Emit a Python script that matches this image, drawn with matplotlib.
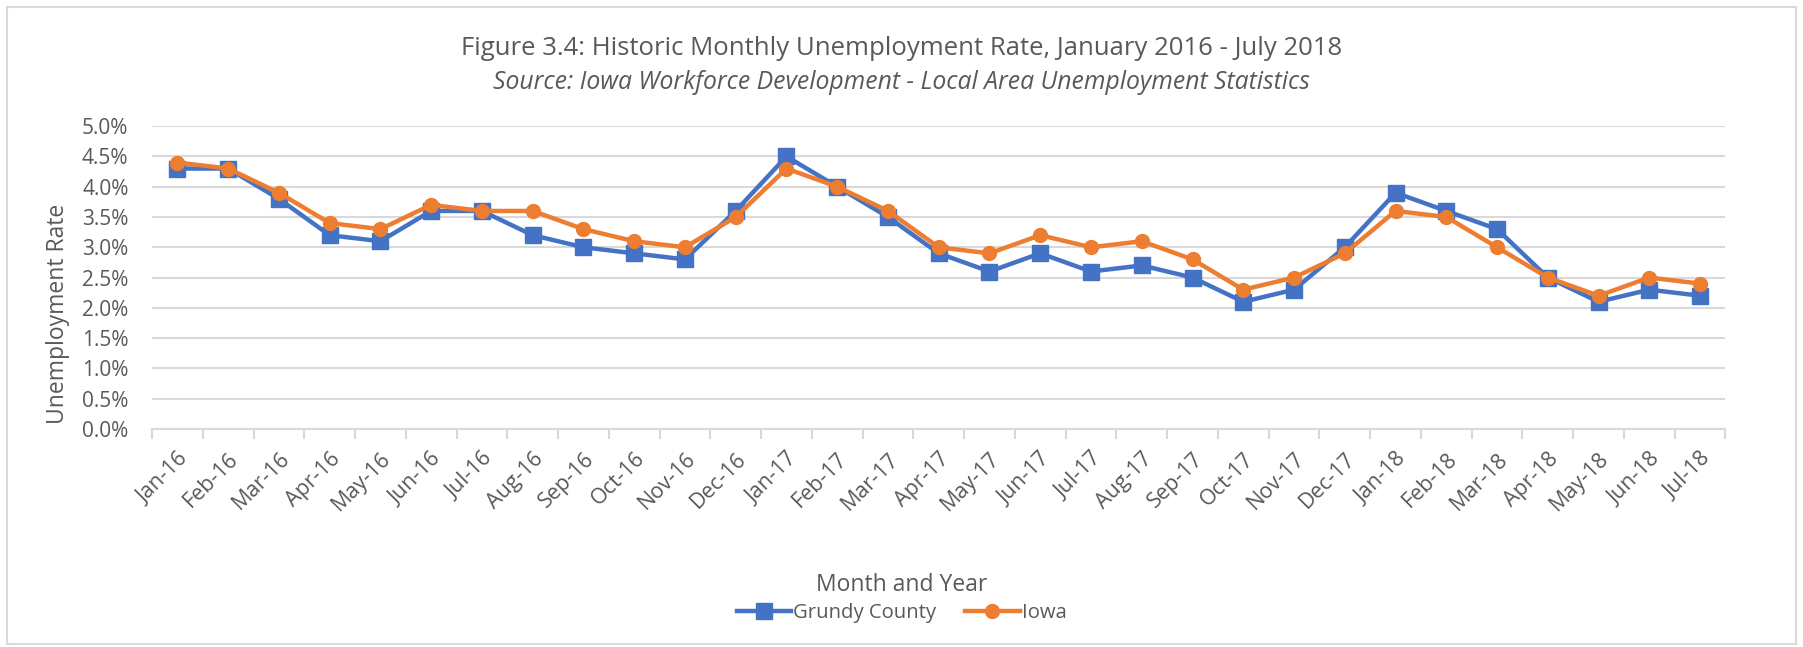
import matplotlib.pyplot as plt
import matplotlib.ticker as mticker
from matplotlib.patches import Rectangle

months = ['Jan-16', 'Feb-16', 'Mar-16', 'Apr-16', 'May-16', 'Jun-16', 'Jul-16', 'Aug-16',
          'Sep-16', 'Oct-16', 'Nov-16', 'Dec-16', 'Jan-17', 'Feb-17', 'Mar-17', 'Apr-17',
          'May-17', 'Jun-17', 'Jul-17', 'Aug-17', 'Sep-17', 'Oct-17', 'Nov-17', 'Dec-17',
          'Jan-18', 'Feb-18', 'Mar-18', 'Apr-18', 'May-18', 'Jun-18', 'Jul-18']

grundy = [4.3, 4.3, 3.8, 3.2, 3.1, 3.6, 3.6, 3.2, 3.0, 2.9, 2.8, 3.6, 4.5, 4.0, 3.5, 2.9,
          2.6, 2.9, 2.6, 2.7, 2.5, 2.1, 2.3, 3.0, 3.9, 3.6, 3.3, 2.5, 2.1, 2.3, 2.2]
iowa = [4.4, 4.3, 3.9, 3.4, 3.3, 3.7, 3.6, 3.6, 3.3, 3.1, 3.0, 3.5, 4.3, 4.0, 3.6, 3.0,
        2.9, 3.2, 3.0, 3.1, 2.8, 2.3, 2.5, 2.9, 3.6, 3.5, 3.0, 2.5, 2.2, 2.5, 2.4]

plt.rcParams['font.family'] = ['Open Sans', 'DejaVu Sans']
text_col = '#595959'
grid_col = '#D9D9D9'

fig = plt.figure(figsize=(18.03, 6.47), dpi=100)
ax = fig.add_axes([0.0843, 0.337, 0.8727, 0.468])

x = list(range(len(months)))
ax.plot(x, grundy, color='#4472C4', lw=3.2, marker='s', ms=11.5, label='Grundy County', zorder=3)
ax.plot(x, iowa, color='#ED7D31', lw=3.2, marker='o', ms=10, label='Iowa', zorder=4)

ax.set_xlim(-0.5, len(months) - 0.5)
ax.set_ylim(0, 5.0)
ax.yaxis.set_major_locator(mticker.MultipleLocator(0.5))
ax.yaxis.set_major_formatter(mticker.FuncFormatter(lambda v, p: f'{v:.1f}%'))
ax.grid(axis='y', color=grid_col, lw=1.5)
ax.set_axisbelow(True)

ax.set_xticks(x)
ax.set_xticklabels(months, rotation=45, ha='right', rotation_mode='anchor')
ax.set_xticks([i - 0.5 for i in range(len(months) + 1)], minor=True)
ax.tick_params(axis='x', which='major', length=0, pad=14, labelsize=15.5, labelcolor=text_col)
ax.tick_params(axis='x', which='minor', length=7, color=grid_col, width=1.5)
ax.tick_params(axis='y', length=0, labelsize=15, labelcolor=text_col, pad=17)

for s in ['top', 'right', 'left']:
    ax.spines[s].set_visible(False)
ax.spines['bottom'].set_color(grid_col)
ax.spines['bottom'].set_linewidth(1.5)

ax.set_ylabel('Unemployment Rate', fontsize=16.5, color=text_col)
ax.yaxis.set_label_coords(-0.052, 0.38)

fig.text(0.5, 0.925, 'Figure 3.4: Historic Monthly Unemployment Rate, January 2016 - July 2018',
         ha='center', va='center', fontsize=18.5, color=text_col)
fig.text(0.5, 0.872, 'Source: Iowa Workforce Development - Local Area Unemployment Statistics',
         ha='center', va='center', fontsize=17.8, style='italic', color=text_col)
fig.text(0.5, 0.0958, 'Month and Year', ha='center', va='center', fontsize=16.5, color=text_col)

fig.legend(loc='center', bbox_to_anchor=(0.5, 0.0525), ncol=2, frameon=False,
           fontsize=14.6, labelcolor=text_col, handlelength=2.7, handletextpad=0.1,
           columnspacing=1.4)

fig.patches.append(Rectangle((0.004, 0.004), 0.992, 0.985, transform=fig.transFigure,
                             fill=False, edgecolor='#D9D9D9', lw=1.5))

fig.savefig('out.png', dpi=100)
